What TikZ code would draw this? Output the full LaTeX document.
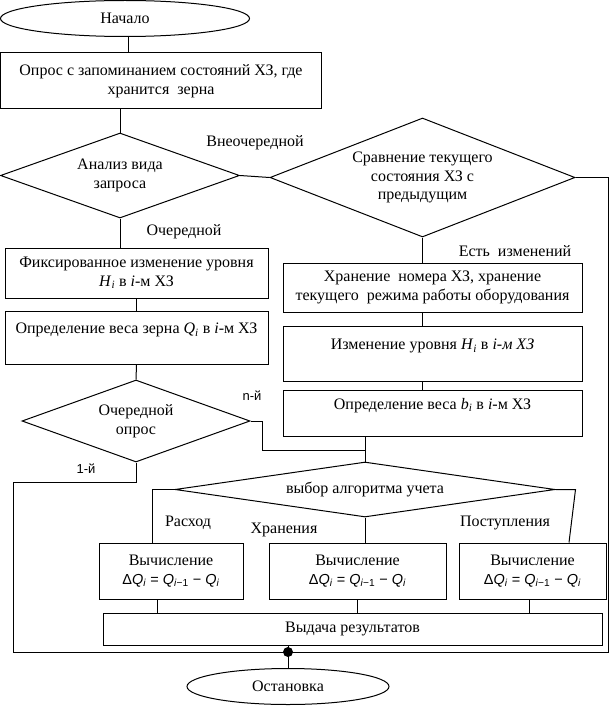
\documentclass[tikz,border=0pt]{standalone}
\usepackage{fontspec}
\setmainfont{Liberation Serif}
\newfontfamily\lsans{Liberation Sans}
\usetikzlibrary{shapes.geometric}
\newcommand{\isub}[2]{\textit{#1}\textsubscript{\textit{#2}}}
\newcommand{\dqform}{{\lsans\fontsize{14.5}{17}\selectfont Δ\textit{Q}\textsubscript{\textit{i}} = \textit{Q}\textsubscript{\textit{i}−1} − \textit{Q}\textsubscript{\textit{i}}}}
\begin{document}
\begin{tikzpicture}[x=1pt,y=-1pt,line width=1pt,
  every node/.style={font=\fontsize{16}{18.5}\selectfont},
  blk/.style={draw,rectangle,align=center,inner sep=0pt},
  dia/.style={draw,diamond,align=center,inner sep=1pt},
  term/.style={draw,ellipse,inner sep=0pt},
  lbl/.style={inner sep=0pt},
  slbl/.style={inner sep=0pt,font=\lsans\fontsize{13}{15}\selectfont}]
\useasboundingbox (0,0) rectangle (610,706);

\node[term,minimum width=249pt,minimum height=36pt] (start) at (125,18.5) {Начало};
\node[blk,minimum width=321pt,minimum height=56pt] (b1) at (161,81) {Опрос с запоминанием состояний ХЗ, где\\хранится\ \ зерна};
\node[dia,minimum width=239pt,minimum height=85pt,shape aspect=2.8] (d1) at (120,175.5) {Анализ вида\\запроса};
\node[dia,minimum width=305pt,minimum height=119pt,shape aspect=2.5] (d2) at (422.5,177.5) {Сравнение текущего\\состояния ХЗ с\\предыдущим};
\node[blk,minimum width=263pt,minimum height=50pt] (fix) at (136.5,273) {Фиксированное изменение уровня\\\isub{H}{i} в \textit{i}-м ХЗ};
\node[blk,minimum width=263pt,minimum height=53pt] (opr) at (136.5,337.5) {Определение веса зерна \isub{Q}{i} в \textit{i}-м ХЗ\\\mbox{}};
\node[dia,minimum width=228pt,minimum height=82pt,shape aspect=2.8] (d3) at (136,421) {Очередной\\опрос};
\node[blk,minimum width=299pt,minimum height=49pt] (st) at (432.5,287.5) {Хранение\ \ номера ХЗ, хранение\\текущего\ \ режима работы оборудования};
\node[blk,minimum width=299pt,minimum height=55pt] (iz) at (432.5,353.5) {Изменение уровня \isub{H}{i} в \textit{i-м ХЗ}\\\mbox{}};
\node[blk,minimum width=299pt,minimum height=46pt] (bi) at (432.5,413) {Определение веса \isub{b}{i} в \textit{i}-м ХЗ\\\mbox{}};
\node[dia,minimum width=380pt,minimum height=55pt,shape aspect=6.9] (d4) at (365,489.5) {выбор алгоритма учета};
\node[blk,minimum width=144pt,minimum height=56pt] (r1) at (171,571) {Вычисление\\\dqform};
\node[blk,minimum width=177pt,minimum height=56pt] (r2) at (357.5,571) {Вычисление\\\dqform};
\node[blk,minimum width=147pt,minimum height=56pt] (r3) at (532.5,571) {Вычисление\\\dqform};
\node[blk,minimum width=499pt,minimum height=32pt] (out) at (352.5,629) {Выдача результатов};
\node[term,minimum width=202pt,minimum height=36pt] (stop) at (288,686.5) {Остановка};

\node[lbl] (l1) at (255,143) {Внеочередной};
\node[lbl] (l2) at (184,232) {Очередной};
\node[lbl] (l3) at (515,251) {Есть\ \ изменений};
\node[slbl] (l4) at (252,396) {n-й};
\node[slbl] (l5) at (86,469) {1-й};
\node[lbl] (l6) at (188,523) {Расход};
\node[lbl] (l7) at (284,530) {Хранения};
\node[lbl] (l8) at (505,523) {Поступления};

\coordinate (jn) at (365,450);
\coordinate (rb) at (608,652);
\coordinate (lc) at (13,482);

\draw ([xshift=3pt]start.south) -- ([xshift=3pt]start.south |- b1.north);
\draw (d1.north |- b1.south) -- (d1.north);
\draw (d1.east) -- (d2.west);
\draw (d1.south) -- (d1.south |- fix.north);
\draw (fix.south) -- (opr.north);
\draw (opr.south) -- (d3.north);
\draw (d2.south) -- (d2.south |- st.north);
\draw (d2.south |- st.south) -- (d2.south |- iz.north);
\draw (d2.south |- iz.south) -- (d2.south |- bi.north);
\draw (bi.south -| d4.north) -- (d4.north);
\draw (d3.east) -- ++(12,0) |- (jn);
\draw (d2.east) -| (rb) -- (lc |- rb) -- (lc) -- (d3.south |- lc) -- (d3.south);
\draw (d4.west) -| ([xshift=-19pt]r1.north);
\draw (d4.south) -- (d4.south |- r2.north);
\draw (d4.east) -- ++(20,0) -- ([xshift=36.5pt]r3.north);
\draw ([xshift=-14pt]r1.south) -- ([xshift=-14pt]r1.south |- out.north);
\draw (r2.south) -- (r2.south |- out.north);
\draw ([xshift=-3.5pt]r3.south) -- ([xshift=-3.5pt]r3.south |- out.north);
\draw (stop.north |- out.south) -- (stop.north);
\fill (stop.north |- rb) circle (5pt);
\end{tikzpicture}
\end{document}
